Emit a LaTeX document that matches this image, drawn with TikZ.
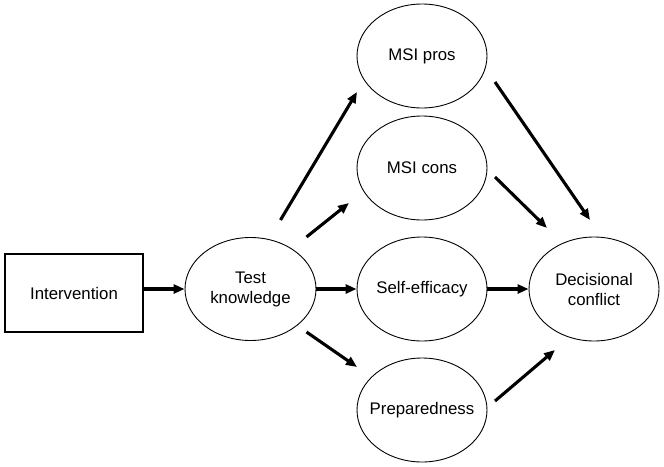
\documentclass[tikz,border=0pt]{standalone}
\usepackage{fontspec}
\setmainfont{Liberation Sans}
\usetikzlibrary{arrows.meta,shapes.geometric}
\begin{document}
\begin{tikzpicture}[x=1pt,y=-1pt,
  every node/.style={font=\fontsize{16.8}{20}\selectfont, align=center},
  oval/.style={draw, ellipse, line width=0.9pt, minimum width=130pt, minimum height=104pt, inner xsep=-20pt, inner ysep=0pt},
  boxnode/.style={draw, rectangle, line width=1.1pt, minimum width=138pt, minimum height=78pt},
  arr/.style={line width=3.1pt, -{Triangle[length=11pt,width=9pt]}}]
\useasboundingbox (0,0) rectangle (664,466);
\node[boxnode] (iv) at (74,293) {Intervention};
\node[oval, minimum width=131pt, minimum height=103pt] (tk) at (250.5,289) {\raisebox{5pt}{\begin{tabular}{@{}c@{}}Test\\knowledge\end{tabular}}};
\node[oval] (pros) at (422,56) {MSI pros};
\node[oval] (cons) at (422,168) {MSI cons};
\node[oval] (se) at (422,289) {Self-efficacy};
\node[oval] (prep) at (422,410) {Preparedness};
\node[oval] (dc) at (594,289) {Decisional\\conflict};
\draw[arr] (iv.east |- tk.west) -- (tk.west);
\draw[arr] (tk.east) -- (se.west);
\draw[arr] (se.east) -- (dc.west);
\draw[arr] ([shift={(30,-69)}]tk.center) -- ([shift={(-65,36)}]pros.center);
\draw[arr] ([shift={(56,-52)}]tk.center) -- ([shift={(-73,35)}]cons.center);
\draw[arr] ([shift={(56,43)}]tk.center) -- ([shift={(-65,-43)}]prep.center);
\draw[arr] ([shift={(73,26)}]pros.center) -- ([shift={(-4,-69)}]dc.center);
\draw[arr] ([shift={(73,9)}]cons.center) -- ([shift={(-47,-61)}]dc.center);
\draw[arr] ([shift={(73,-9)}]prep.center) -- ([shift={(-39,61)}]dc.center);
\end{tikzpicture}
\end{document}
